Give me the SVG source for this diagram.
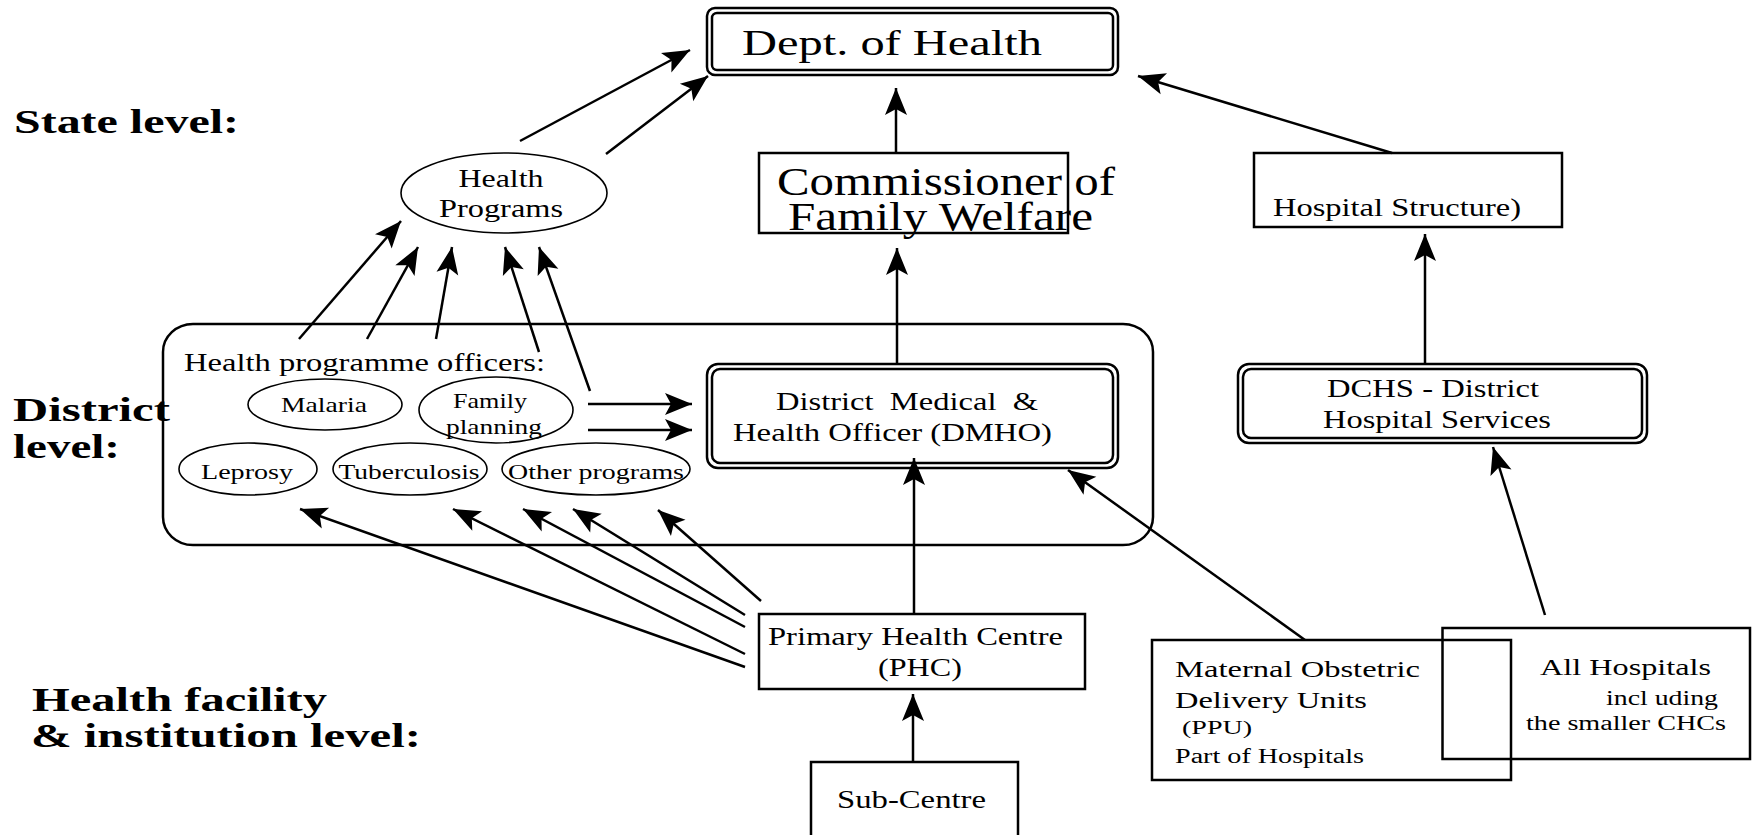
<svg xmlns="http://www.w3.org/2000/svg" width="1754" height="835" viewBox="0 0 1754 835">
<style>
  text { font-family: "Liberation Serif", "Times New Roman", serif; fill: #000; }
  .lvl { font-weight: bold; font-size: 34px; }
  .pre { white-space: pre; }
  .box { fill: none; stroke: #000; stroke-width: 2.5; }
  .ell { fill: none; stroke: #000; stroke-width: 1.6; }
  .con line { stroke: #000; stroke-width: 2.5; marker-end: url(#ah); }
</style>
<defs>
  <marker id="ah" markerUnits="userSpaceOnUse" markerWidth="30" markerHeight="26" viewBox="-28 -13 30 26" refX="0" refY="0" orient="auto">
    <path d="M0,0 L-27,-11 L-21,0 L-27,11 Z" fill="#000"/>
  </marker>
</defs>
<rect width="1754" height="835" fill="#fff"/>

<g id="labels">
  <text class="lvl" x="14" y="133" textLength="225" lengthAdjust="spacingAndGlyphs">State level:</text>
  <text class="lvl" x="13" y="421" textLength="157" lengthAdjust="spacingAndGlyphs">District</text>
  <text class="lvl" x="13" y="458" textLength="107" lengthAdjust="spacingAndGlyphs">level:</text>
  <text class="lvl" x="32" y="711" textLength="295" lengthAdjust="spacingAndGlyphs">Health facility</text>
  <text class="lvl" x="31" y="747" textLength="390" lengthAdjust="spacingAndGlyphs">&amp; institution level:</text>
</g>

<g id="district-area">
  <rect x="163" y="324" width="990" height="221" rx="30" ry="28" class="box"/>
  <text x="184" y="371" font-size="25" textLength="361" lengthAdjust="spacingAndGlyphs">Health programme officers:</text>
</g>

<g id="dept">
  <rect x="707" y="8" width="411" height="67" rx="8" class="box" stroke-width="2"/>
  <rect x="712" y="13" width="401" height="57" rx="5" class="box" stroke-width="2"/>
  <text x="742" y="55" font-size="35" textLength="300" lengthAdjust="spacingAndGlyphs">Dept. of Health</text>
</g>

<g id="commissioner">
  <rect x="759" y="153" width="309" height="80" class="box"/>
  <text x="777" y="195" font-size="39" textLength="338" lengthAdjust="spacingAndGlyphs">Commissioner of</text>
  <text x="788" y="230" font-size="39" textLength="305" lengthAdjust="spacingAndGlyphs">Family Welfare</text>
</g>

<g id="hospital-structure">
  <rect x="1254" y="153" width="308" height="74" class="box"/>
  <text x="1273" y="216" font-size="25" textLength="248" lengthAdjust="spacingAndGlyphs">Hospital Structure)</text>
</g>

<g id="health-programs">
  <ellipse cx="504" cy="193" rx="103" ry="40" class="ell" stroke-width="2"/>
  <text x="501" y="187" font-size="26" text-anchor="middle" textLength="85" lengthAdjust="spacingAndGlyphs">Health</text>
  <text x="501" y="217" font-size="26" text-anchor="middle" textLength="124" lengthAdjust="spacingAndGlyphs">Programs</text>
</g>

<g id="malaria">
  <ellipse cx="325" cy="404.5" rx="77" ry="25.5" class="ell"/>
  <text x="324" y="412" font-size="21" text-anchor="middle" textLength="86" lengthAdjust="spacingAndGlyphs">Malaria</text>
</g>
<g id="family-planning">
  <ellipse cx="496" cy="410" rx="77" ry="33" class="ell"/>
  <text x="490" y="408" font-size="21" text-anchor="middle" textLength="74" lengthAdjust="spacingAndGlyphs">Family</text>
  <text x="494" y="434" font-size="21" text-anchor="middle" textLength="96" lengthAdjust="spacingAndGlyphs">planning</text>
</g>
<g id="leprosy">
  <ellipse cx="248" cy="469" rx="69" ry="26" class="ell"/>
  <text x="247" y="479" font-size="21" text-anchor="middle" textLength="92" lengthAdjust="spacingAndGlyphs">Leprosy</text>
</g>
<g id="tuberculosis">
  <ellipse cx="410" cy="469" rx="77" ry="26" class="ell"/>
  <text x="409" y="479" font-size="21" text-anchor="middle" textLength="141" lengthAdjust="spacingAndGlyphs">Tuberculosis</text>
</g>
<g id="other-programs">
  <ellipse cx="596" cy="469" rx="94" ry="26" class="ell"/>
  <text x="596" y="479" font-size="21" text-anchor="middle" textLength="176" lengthAdjust="spacingAndGlyphs">Other programs</text>
</g>

<g id="dmho">
  <rect x="707" y="364" width="411" height="104" rx="11" class="box" stroke-width="2"/>
  <rect x="712" y="369" width="401" height="94" rx="8" class="box" stroke-width="2"/>
  <text class="pre" x="776" y="410" font-size="25" textLength="262" lengthAdjust="spacingAndGlyphs">District  Medical  &amp;</text>
  <text x="733" y="441" font-size="25" textLength="319" lengthAdjust="spacingAndGlyphs">Health Officer (DMHO)</text>
</g>

<g id="dchs">
  <rect x="1238" y="364" width="409" height="79" rx="11" class="box" stroke-width="2"/>
  <rect x="1243" y="369" width="399" height="69" rx="8" class="box" stroke-width="2"/>
  <text x="1433" y="397" font-size="25" text-anchor="middle" textLength="212" lengthAdjust="spacingAndGlyphs">DCHS - District</text>
  <text x="1437" y="428" font-size="25" text-anchor="middle" textLength="228" lengthAdjust="spacingAndGlyphs">Hospital Services</text>
</g>

<g id="phc">
  <rect x="759" y="614" width="326" height="75" class="box"/>
  <text x="768" y="645" font-size="25" textLength="295" lengthAdjust="spacingAndGlyphs">Primary Health Centre</text>
  <text x="878" y="676" font-size="25" textLength="84" lengthAdjust="spacingAndGlyphs">(PHC)</text>
</g>

<g id="sub-centre">
  <rect x="811" y="762" width="207" height="90" class="box"/>
  <text x="837" y="808" font-size="25" textLength="149" lengthAdjust="spacingAndGlyphs">Sub-Centre</text>
</g>

<g id="maternal">
  <rect x="1152" y="640" width="359" height="140" class="box"/>
  <text x="1175" y="677" font-size="23.5" textLength="245" lengthAdjust="spacingAndGlyphs">Maternal Obstetric</text>
  <text x="1175" y="708" font-size="23.5" textLength="192" lengthAdjust="spacingAndGlyphs">Delivery Units</text>
  <text x="1182" y="734" font-size="19" textLength="70" lengthAdjust="spacingAndGlyphs">(PPU)</text>
  <text x="1175" y="763" font-size="20.5" textLength="189" lengthAdjust="spacingAndGlyphs">Part of Hospitals</text>
</g>

<g id="all-hospitals">
  <rect x="1442.5" y="628" width="307.5" height="131" class="box"/>
  <text x="1540" y="675" font-size="23" textLength="171" lengthAdjust="spacingAndGlyphs">All Hospitals</text>
  <text x="1606" y="705" font-size="20.5" textLength="112" lengthAdjust="spacingAndGlyphs">incl uding</text>
  <text x="1526" y="730" font-size="20.5" textLength="200" lengthAdjust="spacingAndGlyphs">the smaller CHCs</text>
</g>

<g id="connectors" class="con">
  <line x1="520" y1="141" x2="690" y2="50"/>
  <line x1="606" y1="154" x2="708" y2="76"/>
  <line x1="896" y1="153" x2="896" y2="88"/>
  <line x1="1392" y1="153" x2="1138" y2="76"/>
  <line x1="897" y1="364" x2="897" y2="248"/>
  <line x1="1425" y1="364" x2="1425" y2="234"/>
  <line x1="299" y1="339" x2="401" y2="221"/>
  <line x1="367" y1="339" x2="418" y2="247"/>
  <line x1="436" y1="339" x2="452" y2="247"/>
  <line x1="539" y1="352" x2="505" y2="247"/>
  <line x1="590" y1="391" x2="539" y2="247"/>
  <line x1="588" y1="404" x2="692" y2="404"/>
  <line x1="588" y1="430" x2="692" y2="430"/>
  <line x1="914" y1="614" x2="914" y2="458"/>
  <line x1="913" y1="762" x2="913" y2="694"/>
  <line x1="745" y1="667" x2="300" y2="509"/>
  <line x1="745" y1="654" x2="453" y2="509"/>
  <line x1="745" y1="627" x2="523" y2="509"/>
  <line x1="745" y1="615" x2="573" y2="509"/>
  <line x1="761" y1="601" x2="658" y2="510"/>
  <line x1="1305" y1="640" x2="1068" y2="470"/>
  <line x1="1545" y1="615" x2="1493" y2="447"/>
</g>
</svg>
